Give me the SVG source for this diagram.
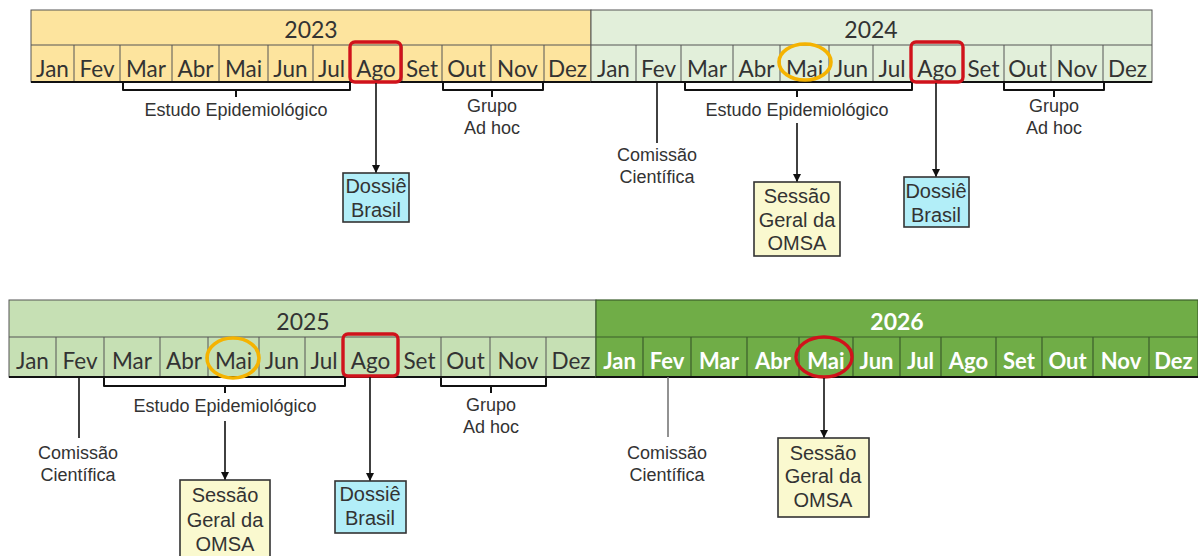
<svg xmlns="http://www.w3.org/2000/svg" width="1198" height="556" viewBox="0 0 1198 556">
<defs>
<style>
.m{font-family:Lato,"Liberation Sans",sans-serif;font-size:22.5px;fill:#333;text-anchor:middle}
.mw{font-family:Lato,"Liberation Sans",sans-serif;font-size:22px;font-weight:bold;fill:#fff;text-anchor:middle}
.yr{font-family:Lato,"Liberation Sans",sans-serif;font-size:23px;fill:#333;text-anchor:middle}
.yrw{font-family:Lato,"Liberation Sans",sans-serif;font-size:23px;font-weight:bold;fill:#fff;text-anchor:middle}
.lb{font-family:"Liberation Sans",Arial,sans-serif;font-size:18px;fill:#333;text-anchor:middle}
.bx{font-family:"Liberation Sans",Arial,sans-serif;font-size:20px;fill:#333;text-anchor:middle}
.cell{stroke:#555;stroke-width:1}
.cellg{stroke:#3b5e2b;stroke-width:1.2}
.base{stroke:#111;stroke-width:2}
.br{fill:none;stroke:#111;stroke-width:2;stroke-linejoin:round}
.ln{fill:none;stroke:#111;stroke-width:1.6}
.lng{fill:none;stroke:#777;stroke-width:1.6}
.red{fill:none;stroke:#D0121B;stroke-width:3.4}
.org{fill:none;stroke:#F5B301;stroke-width:3.6}
.dos{fill:#B2EEF8;stroke:#333;stroke-width:1.6}
.ses{fill:#FAF9CF;stroke:#333;stroke-width:1.6}
</style>
<marker id="ah" markerUnits="userSpaceOnUse" markerWidth="9" markerHeight="9" refX="8" refY="4" orient="auto">
<path d="M0,0 L8,4 L0,8 z" fill="#111"/>
</marker>
</defs>
<rect width="1198" height="556" fill="#fff"/>

<!-- 2023 -->
<g id="year2023">
<rect x="31" y="10" width="560" height="72" fill="#FDE49E" class="cell"/>
<line x1="31" y1="45" x2="591" y2="45" class="cell"/>
<path class="cell" d="M74,45V82M120,45V82M172,45V82M219,45V82M268,45V82M313,45V82M350,45V82M402,45V82M442,45V82M491,45V82M544,45V82"/>
<line x1="31" y1="82" x2="591" y2="82" class="base"/>
<text class="yr" x="311" y="38">2023</text>
<text class="m" x="52.5" y="77">Jan</text><text class="m" x="97" y="77">Fev</text><text class="m" x="146" y="77">Mar</text><text class="m" x="195.5" y="77">Abr</text><text class="m" x="243.5" y="77">Mai</text><text class="m" x="290.5" y="77">Jun</text><text class="m" x="331.5" y="77">Jul</text><text class="m" x="376" y="77">Ago</text><text class="m" x="422" y="77">Set</text><text class="m" x="466.5" y="77">Out</text><text class="m" x="517.5" y="77">Nov</text><text class="m" x="567.5" y="77">Dez</text>
</g>

<!-- 2024 -->
<g id="year2024">
<rect x="591" y="10" width="561" height="72" fill="#E2EFDA" class="cell"/>
<line x1="591" y1="45" x2="1152" y2="45" class="cell"/>
<path class="cell" d="M636,45V82M681,45V82M733,45V82M780,45V82M829,45V82M873,45V82M911,45V82M963,45V82M1004,45V82M1051,45V82M1103,45V82"/>
<line x1="591" y1="82" x2="1152" y2="82" class="base"/>
<text class="yr" x="871" y="38">2024</text>
<text class="m" x="613.5" y="77">Jan</text><text class="m" x="658.5" y="77">Fev</text><text class="m" x="707" y="77">Mar</text><text class="m" x="756.5" y="77">Abr</text><text class="m" x="804.5" y="77">Mai</text><text class="m" x="851" y="77">Jun</text><text class="m" x="892" y="77">Jul</text><text class="m" x="937" y="77">Ago</text><text class="m" x="983.5" y="77">Set</text><text class="m" x="1027.5" y="77">Out</text><text class="m" x="1077" y="77">Nov</text><text class="m" x="1127.5" y="77">Dez</text>
</g>

<!-- 2025 -->
<g id="year2025">
<rect x="9" y="300" width="587" height="77" fill="#C6E0B4" class="cell"/>
<line x1="9" y1="337" x2="596" y2="337" class="cell"/>
<path class="cell" d="M56,337V377M104,337V377M160,337V377M208,337V377M259,337V377M305,337V377M343,337V377M398,337V377M441,337V377M490,337V377M546,337V377"/>
<line x1="9" y1="377" x2="596" y2="377" class="base"/>
<text class="yr" x="303" y="330">2025</text>
<text class="m" x="32.5" y="369">Jan</text><text class="m" x="80" y="369">Fev</text><text class="m" x="132" y="369">Mar</text><text class="m" x="184" y="369">Abr</text><text class="m" x="233.5" y="369">Mai</text><text class="m" x="282" y="369">Jun</text><text class="m" x="324" y="369">Jul</text><text class="m" x="370.5" y="369">Ago</text><text class="m" x="419.5" y="369">Set</text><text class="m" x="465.5" y="369">Out</text><text class="m" x="518" y="369">Nov</text><text class="m" x="571" y="369">Dez</text>
</g>

<!-- 2026 -->
<g id="year2026">
<rect x="596" y="300" width="602" height="77" fill="#70AD47" class="cellg"/>
<line x1="596" y1="337" x2="1198" y2="337" class="cellg"/>
<path class="cellg" d="M643,337V377M691,337V377M747,337V377M799,337V377M853,337V377M900,337V377M941,337V377M996,337V377M1042,337V377M1093,337V377M1149,337V377"/>
<line x1="596" y1="377" x2="1198" y2="377" class="base"/>
<text class="yrw" x="897" y="330">2026</text>
<text class="mw" x="619.5" y="369">Jan</text><text class="mw" x="667" y="369">Fev</text><text class="mw" x="719" y="369">Mar</text><text class="mw" x="773" y="369">Abr</text><text class="mw" x="826" y="369">Mai</text><text class="mw" x="876.5" y="369">Jun</text><text class="mw" x="920.5" y="369">Jul</text><text class="mw" x="968.5" y="369">Ago</text><text class="mw" x="1019" y="369">Set</text><text class="mw" x="1067.5" y="369">Out</text><text class="mw" x="1121" y="369">Nov</text><text class="mw" x="1173.5" y="369">Dez</text>
</g>

<!-- highlights -->
<g id="highlights">
<rect class="red" x="350" y="42" width="51" height="40" rx="5"/>
<rect class="red" x="911" y="42" width="52" height="40" rx="5"/>
<rect class="red" x="343" y="334" width="55" height="42" rx="5"/>
<ellipse class="org" cx="805" cy="62" rx="26" ry="18"/>
<ellipse class="org" cx="233" cy="358" rx="26" ry="20"/>
<ellipse class="red" cx="824" cy="357" rx="28" ry="20"/>
</g>

<!-- connectors -->
<g id="connectors">
<path class="br" d="M123,83V90H350V83M236,90V97"/>
<path class="br" d="M443,83V90H543V83M492,90V97"/>
<path class="br" d="M685,83V90H912V83M797,90V97"/>
<path class="br" d="M1004,83V90H1104V83M1054,90V97"/>
<path class="br" d="M104,378V386H345V378M225,386V393"/>
<path class="br" d="M441,378V386H546V378M491,386V393"/>
<line class="ln" x1="376" y1="83" x2="376" y2="173" marker-end="url(#ah)"/>
<line class="ln" x1="797" y1="123" x2="797" y2="182" marker-end="url(#ah)"/>
<line class="ln" x1="936" y1="83" x2="936" y2="177" marker-end="url(#ah)"/>
<line class="ln" x1="225" y1="421" x2="225" y2="480" marker-end="url(#ah)"/>
<line class="ln" x1="370" y1="377" x2="370" y2="481" marker-end="url(#ah)"/>
<line class="ln" x1="824" y1="378" x2="824" y2="438" marker-end="url(#ah)"/>
<line class="ln" x1="657" y1="82" x2="657" y2="143"/>
<line class="ln" x1="79" y1="377" x2="79" y2="438"/>
<line class="lng" x1="668" y1="377" x2="668" y2="437"/>
</g>

<!-- labels -->
<g id="label-estudo-2023"><text class="lb" x="236" y="116">Estudo Epidemiológico</text></g>
<g id="label-grupo-2023"><text class="lb" x="492" y="112">Grupo</text><text class="lb" x="492" y="134">Ad hoc</text></g>
<g id="label-estudo-2024"><text class="lb" x="797" y="116">Estudo Epidemiológico</text></g>
<g id="label-grupo-2024"><text class="lb" x="1054" y="112">Grupo</text><text class="lb" x="1054" y="134">Ad hoc</text></g>
<g id="label-comissao-2024"><text class="lb" x="657" y="161">Comissão</text><text class="lb" x="657" y="183">Científica</text></g>
<g id="label-estudo-2025"><text class="lb" x="225" y="412">Estudo Epidemiológico</text></g>
<g id="label-grupo-2025"><text class="lb" x="491" y="411">Grupo</text><text class="lb" x="491" y="433">Ad hoc</text></g>
<g id="label-comissao-2025"><text class="lb" x="78" y="459">Comissão</text><text class="lb" x="78" y="481">Científica</text></g>
<g id="label-comissao-2026"><text class="lb" x="667" y="459">Comissão</text><text class="lb" x="667" y="481">Científica</text></g>

<!-- boxes -->
<g id="dossie-2023"><rect class="dos" x="343" y="173" width="66" height="49"/><text class="bx" x="376" y="193">Dossiê</text><text class="bx" x="376" y="217">Brasil</text></g>
<g id="sessao-2024"><rect class="ses" x="754" y="182" width="86" height="74"/><text class="bx" x="797" y="203">Sessão</text><text class="bx" x="797" y="227">Geral da</text><text class="bx" x="797" y="250">OMSA</text></g>
<g id="dossie-2024"><rect class="dos" x="904" y="177" width="65" height="50"/><text class="bx" x="936" y="198">Dossiê</text><text class="bx" x="936" y="222">Brasil</text></g>
<g id="sessao-2025"><rect class="ses" x="180" y="480" width="90" height="82"/><text class="bx" x="225" y="502">Sessão</text><text class="bx" x="225" y="527">Geral da</text><text class="bx" x="225" y="551">OMSA</text></g>
<g id="dossie-2025"><rect class="dos" x="335" y="481" width="71" height="52"/><text class="bx" x="370" y="501">Dossiê</text><text class="bx" x="370" y="525">Brasil</text></g>
<g id="sessao-2026"><rect class="ses" x="778" y="438" width="91" height="79"/><text class="bx" x="823" y="460">Sessão</text><text class="bx" x="823" y="483">Geral da</text><text class="bx" x="823" y="507">OMSA</text></g>
</svg>
